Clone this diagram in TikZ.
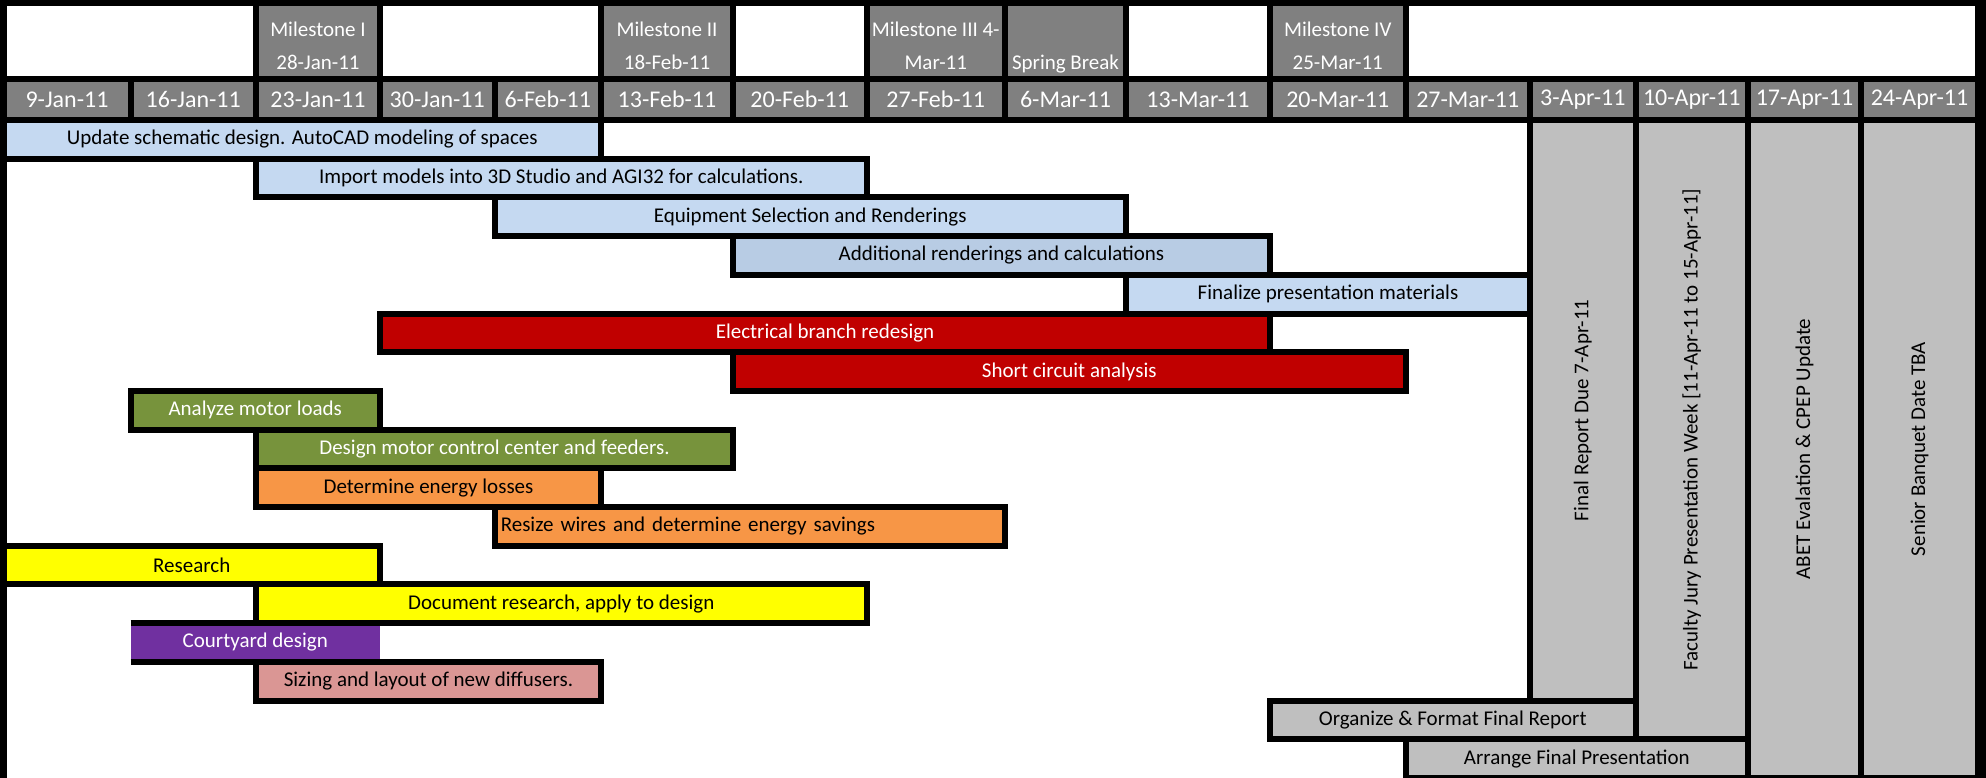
\documentclass[tikz,border=0pt]{standalone}
\usepackage{fontspec}
\setmainfont{Carlito}
\usetikzlibrary{positioning}
\definecolor{colorHead}{HTML}{808080}
\definecolor{colorBlue}{HTML}{C5D9F1}
\definecolor{colorBlueB}{HTML}{B8CCE4}
\definecolor{colorRed}{HTML}{C00000}
\definecolor{colorGreen}{HTML}{77933C}
\definecolor{colorOrange}{HTML}{F79646}
\definecolor{colorYellow}{HTML}{FFFF00}
\definecolor{colorPurple}{HTML}{7030A0}
\definecolor{colorPink}{HTML}{DA9694}
\definecolor{colorWeek}{HTML}{BFBFBF}

\begin{document}
\begin{tikzpicture}[x=1pt,y=-1pt,every node/.append style={align=center,inner sep=0pt,outer sep=0pt},cell/.style={draw,line width=6pt,anchor=north west,font=\fontsize{21}{25.6}\selectfont},bar/.style={cell,minimum height=38.7pt},date/.style={cell,fill=colorHead,text=white,minimum height=41pt,font=\fontsize{24}{28}\selectfont},mile/.style={cell,fill=colorHead,minimum height=76pt},miletext/.style={text=white,font=\fontsize{21}{33}\selectfont},week/.style={cell,fill=colorWeek},weektext/.style={rotate=90,font=\fontsize{21}{25.6}\selectfont},]
    \useasboundingbox (0,0) rectangle (1986,778);
    \fill[black] (0,0) rectangle (1986,778);
    \fill[white] (7,6) rectangle (1975,778);
    % milestones
    \node [mile, minimum width=124pt] (ms1) at (256,3) {};
    \node [mile, minimum width=132pt] (ms2) at (601,3) {};
    \node [mile, minimum width=138.5pt] (ms3) at (866.5,3) {};
    \node [mile, minimum width=121pt] (ms4) at (1005,3) {};
    \node [mile, minimum width=135.5pt] (ms5) at (1270,3) {};
    \node [miletext, above=0pt of ms1.south] (ms1txt) {Milestone I\\28-Jan-11\strut};
    \node [miletext, above=0pt of ms2.south] (ms2txt) {Milestone II\\18-Feb-11\strut};
    \node [miletext, above=0pt of ms3.south] (ms3txt) {Milestone III 4-\\Mar-11\strut};
    \node [miletext, above=0pt of ms4.south] (ms4txt) {Spring Break\strut};
    \node [miletext, above=0pt of ms5.south] (ms5txt) {Milestone IV\\25-Mar-11\strut};
    % weeks
    \node [date, minimum width=127pt] (d1) at (3.5,79) {9-Jan-11};
    \node [date, minimum width=125.5pt, right=0pt of d1] (d2) {16-Jan-11};
    \node [date, minimum width=124pt, right=0pt of d2] (d3) {23-Jan-11};
    \node [date, minimum width=114.5pt, right=0pt of d3] (d4) {30-Jan-11};
    \node [date, minimum width=106.5pt, right=0pt of d4] (d5) {6-Feb-11};
    \node [date, minimum width=132pt, right=0pt of d5] (d6) {13-Feb-11};
    \node [date, minimum width=133.5pt, right=0pt of d6] (d7) {20-Feb-11};
    \node [date, minimum width=138.5pt, right=0pt of d7] (d8) {27-Feb-11};
    \node [date, minimum width=121pt, right=0pt of d8] (d9) {6-Mar-11};
    \node [date, minimum width=144pt, right=0pt of d9] (d10) {13-Mar-11};
    \node [date, minimum width=135.5pt, right=0pt of d10] (d11) {20-Mar-11};
    \node [date, minimum width=124.5pt, right=0pt of d11] (d12) {27-Mar-11};
    \node [date, minimum width=105.5pt, right=0pt of d12] (d13) {3-Apr-11};
    \node [date, minimum width=112.5pt, right=0pt of d13] (d14) {10-Apr-11};
    \node [date, minimum width=113pt, right=0pt of d14] (d15) {17-Apr-11};
    \node [date, minimum width=117pt, right=0pt of d15] (d16) {24-Apr-11};
    % tasks
    \node [bar, fill=colorBlue, minimum width=597.5pt] (upd) at (3.5,120) {Update schematic design. AutoCAD modeling of spaces};
    \node [bar, fill=colorBlue, minimum width=610.5pt] (imp) at (256,158.7) {Import models into 3D Studio and AGI32 for calculations.};
    \node [bar, fill=colorBlue, minimum width=631.5pt] (equ) at (494.5,197.4) {Equipment Selection and Renderings};
    \node [bar, fill=colorBlueB, minimum width=537pt] (add) at (733,236.1) {Additional renderings and calculations};
    \node [bar, fill=colorBlue, minimum width=404pt] (fin) at (1126,274.8) {Finalize presentation materials};
    \node [bar, fill=colorRed, text=white, minimum width=890pt] (ele) at (380,313.5) {Electrical branch redesign};
    \node [bar, fill=colorRed, text=white, minimum width=672.5pt] (sca) at (733,352.2) {Short circuit analysis};
    \node [bar, fill=colorGreen, text=white, minimum width=249.5pt] (amo) at (130.5,390.9) {Analyze motor loads};
    \node [bar, fill=colorGreen, text=white, minimum width=477pt] (dmc) at (256,429.6) {Design motor control center and feeders.};
    \node [bar, fill=colorOrange, minimum width=345pt] (del) at (256,468.3) {Determine energy losses};
    \node [bar, fill=colorOrange, minimum width=510.5pt, text width=498pt, align=left] (rsz) at (494.5,507) {Resize wires and determine energy savings};
    \node [bar, fill=colorYellow, minimum width=376.5pt] (res) at (3.5,545.7) {Research};
    \node [bar, fill=colorYellow, minimum width=610.5pt] (doc) at (256,584.4) {Document research, apply to design};
    \node [bar, draw=none, fill=colorPurple, text=white, minimum width=249.5pt] (cyd) at (130.5,623.1) {Courtyard design};
    \draw[line width=6pt] (cyd.north west) -- (cyd.north east);
    \draw[line width=6pt] (cyd.south west) -- (cyd.south east);
    \node [bar, fill=colorPink, minimum width=345pt] (siz) at (256,661.8) {Sizing and layout of new diffusers.};
    \node [bar, fill=colorWeek, minimum width=365.5pt] (org) at (1270,700.5) {Organize \& Format Final Report};
    \node [bar, fill=colorWeek, minimum width=342.5pt] (arr) at (1405.5,739.2) {Arrange Final Presentation};
    % final weeks
    \node [week, minimum width=105.5pt, minimum height=580.5pt] (frd) at (1530,120) {};
    \node [week, minimum width=112.5pt, minimum height=619.2pt] (fjp) at (1635.5,120) {};
    \node [week, minimum width=113pt, minimum height=657.9pt] (abt) at (1748,120) {};
    \node [week, minimum width=117pt, minimum height=657.9pt] (sbq) at (1861,120) {};
    \node [weektext] (frdtxt) at (frd.center) {Final Report Due 7-Apr-11};
    \node [weektext] (fjptxt) at (fjp.center) {Faculty Jury Presentation Week [11-Apr-11 to 15-Apr-11]};
    \node [weektext] (abttxt) at (abt.center) {ABET Evalation \& CPEP Update};
    \node [weektext] (sbqtxt) at (sbq.center) {Senior Banquet Date TBA};
\end{tikzpicture}
\end{document}
